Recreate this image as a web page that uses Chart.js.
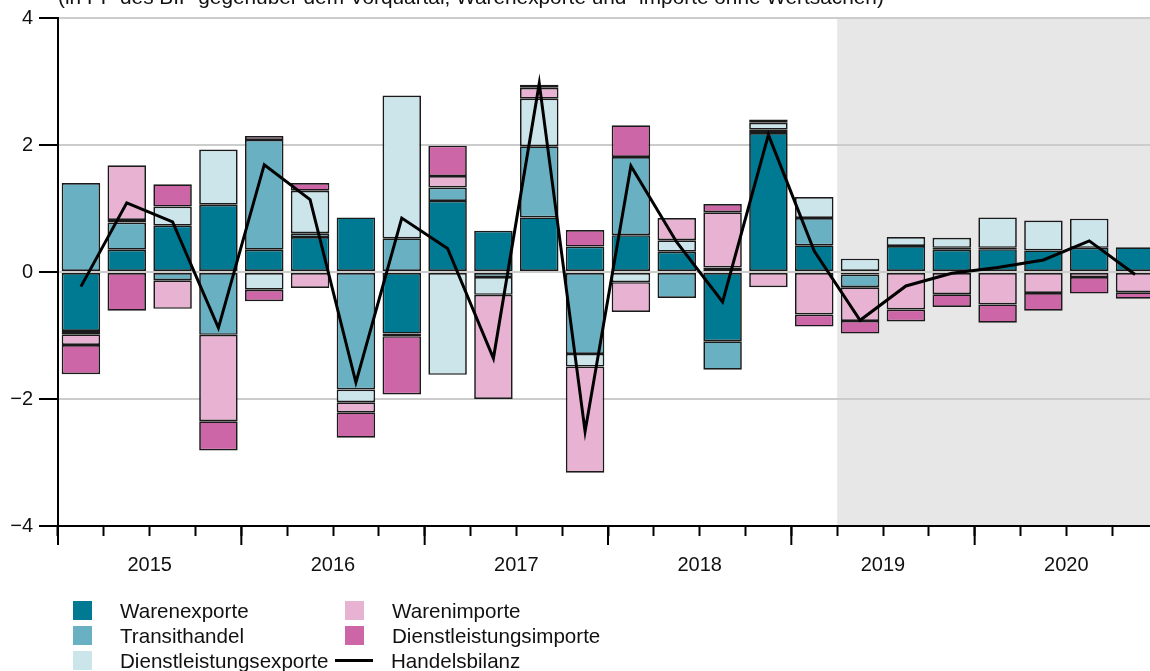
<!DOCTYPE html>
<html>
<head>
<meta charset="utf-8">
<script src="https://cdn.jsdelivr.net/npm/chart.js@4.4.0/dist/chart.umd.min.js"></script>
<style>
  html, body { margin: 0; padding: 0; background: #fff; overflow: hidden; }
  body { width: 1150px; height: 671px; position: relative; font-family: 'Liberation Sans', Arial, Helvetica, sans-serif; color: #111; }
  #wrap { position: absolute; left: 0; top: 0; width: 1158px; height: 600px; }
  #title { position: absolute; left: 58px; top: -13px; font-size: 20.8px; line-height: 20px; white-space: nowrap; }
  .item { position: absolute; height: 19px; display: flex; align-items: center; font-size: 20.6px; white-space: nowrap; }
  .swatch { width: 19px; height: 19px; }
  .dash { width: 38px; height: 3px; background: #000; }
</style>
</head>
<body>
<div id="wrap"><canvas id="tradeChart" width="1158" height="600"></canvas></div>
<div id="title">(in PP des BIP gegenüber dem Vorquartal; Warenexporte und -importe ohne Wertsachen)</div>
<div id="legend"></div>
<script>
// --- Data (percentage points of GDP, change vs previous quarter) ---
const quarters = [
  '2015 Q1', '2015 Q2', '2015 Q3', '2015 Q4',
  '2016 Q1', '2016 Q2', '2016 Q3', '2016 Q4',
  '2017 Q1', '2017 Q2', '2017 Q3', '2017 Q4',
  '2018 Q1', '2018 Q2', '2018 Q3', '2018 Q4',
  '2019 Q1', '2019 Q2', '2019 Q3', '2019 Q4',
  '2020 Q1', '2020 Q2', '2020 Q3', '2020 Q4'
];
const yearLabels = ['2015', '2016', '2017', '2018', '2019', '2020'];
const yTicks = [-4, -2, 0, 2, 4];
const forecastStart = '2019 Q2';

const warenexporte = [
  -0.93, 0.35, 0.73, 1.06, 0.35, 0.55, 0.86, -0.97,
  1.12, 0.65, 0.86, 0.40, 0.58, 0.32, -1.09, 2.19,
  0.42, -0.04, 0.41, 0.35, 0.36, 0.34, 0.38, 0.39
];
const transithandel = [
  1.40, 0.43, -0.13, -0.99, 1.73, 0.06, -1.85, 0.53,
  0.21, -0.08, 1.12, -1.29, 1.23, -0.41, -0.45, 0.05,
  0.43, -0.20, 0.00, 0.03, 0.02, 0.00, 0.00, 0.00
];
const dienstleistungsexporte = [
  -0.05, 0.04, 0.30, 0.87, -0.28, 0.67, -0.20, 2.25,
  -1.62, -0.28, 0.75, -0.20, -0.16, 0.18, 0.07, 0.11,
  0.33, 0.21, 0.14, 0.16, 0.48, 0.47, 0.46, 0.00
];
const warenimporte = [
  -0.17, 0.86, -0.45, -1.36, 0.06, -0.25, -0.16, -0.04,
  0.18, -1.64, 0.17, -1.67, -0.47, 0.35, 0.87, -0.24,
  -0.67, -0.53, -0.59, -0.35, -0.51, -0.33, -0.08, -0.32
];
const dienstleistungsimporte = [
  -0.46, -0.61, 0.35, -0.46, -0.18, 0.12, -0.40, -0.92,
  0.48, 0.00, 0.05, 0.26, 0.50, 0.00, 0.13, 0.05,
  -0.19, -0.20, -0.19, -0.20, -0.29, -0.28, -0.26, -0.10
];
const handelsbilanz = [
  -0.23, 1.09, 0.79, -0.88, 1.69, 1.14, -1.74, 0.85,
  0.37, -1.36, 2.97, -2.51, 1.67, 0.47, -0.47, 2.16,
  0.33, -0.76, -0.22, -0.02, 0.07, 0.19, 0.49, -0.04
];

const barSeries = [
  { label: 'Warenexporte', data: warenexporte, color: '#007a93' },
  { label: 'Transithandel', data: transithandel, color: '#68b0c2' },
  { label: 'Dienstleistungsexporte', data: dienstleistungsexporte, color: '#cce5eb' },
  { label: 'Warenimporte', data: warenimporte, color: '#e8b3d2' },
  { label: 'Dienstleistungsimporte', data: dienstleistungsimporte, color: '#cc66a6' }
];

Chart.defaults.font.family = "'Liberation Sans', Arial, Helvetica, sans-serif";
Chart.defaults.font.size = 20;
Chart.defaults.color = '#111';

// grey background for the forecast period + long year ticks on the x axis
const forecastPlugin = {
  id: 'forecast',
  beforeDraw(chart) {
    const { ctx, chartArea, scales } = chart;
    const x = scales.x;
    const half = (x.getPixelForValue(1) - x.getPixelForValue(0)) / 2;
    const start = x.getPixelForValue(quarters.indexOf(forecastStart)) - half;
    ctx.save();
    ctx.fillStyle = '#e7e7e7';
    ctx.fillRect(start, chartArea.top, chartArea.right - start, chartArea.bottom - chartArea.top);
    ctx.restore();
  },
  afterDraw(chart) {
    const { ctx, chartArea, scales } = chart;
    const x = scales.x;
    const half = (x.getPixelForValue(1) - x.getPixelForValue(0)) / 2;
    ctx.save();
    ctx.strokeStyle = '#000';
    ctx.lineWidth = 2;
    for (let i = 0; i <= quarters.length; i += 4) {
      const px = i < quarters.length ? x.getPixelForValue(i) - half : x.getPixelForValue(i - 1) + half;
      ctx.beginPath();
      ctx.moveTo(px, chartArea.bottom);
      ctx.lineTo(px, chartArea.bottom + 19);
      ctx.stroke();
    }
    ctx.restore();
  }
};

const datasets = barSeries.map(s => ({
  type: 'bar',
  label: s.label,
  data: s.data,
  backgroundColor: s.color,
  borderColor: '#1a1a1a',
  borderWidth: 1.7,
  borderSkipped: false,
  barPercentage: 0.84,
  categoryPercentage: 1,
  order: 1
}));
datasets.push({
  type: 'line',
  label: 'Handelsbilanz',
  data: handelsbilanz,
  borderColor: '#000',
  borderWidth: 3,
  pointRadius: 0,
  tension: 0,
  fill: false,
  stack: 'bilanz',
  order: 0
});

new Chart(document.getElementById('tradeChart'), {
  data: { labels: quarters, datasets: datasets },
  options: {
    responsive: false,
    animation: false,
    layout: { padding: { top: 17, bottom: 14, left: 0, right: 0 } },
    plugins: { legend: { display: false }, tooltip: { enabled: false } },
    scales: {
      x: {
        stacked: true,
        offset: true,
        grid: { display: true, offset: true, drawOnChartArea: false, drawTicks: true, tickLength: 10, tickColor: '#000', tickWidth: 2 },
        border: { color: '#000', width: 2 },
        ticks: {
          autoSkip: false,
          maxRotation: 0,
          padding: 17,
          labelOffset: 22.9,
          callback: (val, i) => (i % 4 === 1 ? yearLabels[Math.floor(i / 4)] : '')
        },
        afterFit: scale => { scale.height = 60; }
      },
      y: {
        stacked: true,
        min: yTicks[0],
        max: yTicks[yTicks.length - 1],
        grid: {
          color: c => (c.tick && c.tick.value === yTicks[0] ? 'rgba(0,0,0,0)' : '#cccccc'),
          lineWidth: 2,
          tickLength: 19,
          tickColor: '#000',
          tickWidth: 2
        },
        border: { color: '#000', width: 2 },
        ticks: {
          stepSize: 2,
          padding: 6,
          callback: v => String(v).replace('-', '\u2212')
        },
        afterBuildTicks: scale => { scale.ticks = yTicks.map(v => ({ value: v })); },
        afterFit: scale => { scale.width = 58; }
      }
    }
  },
  plugins: [forecastPlugin]
});

// --- Legend (two columns, as in the original) ---
const legendItems = [
  { label: barSeries[0].label, color: barSeries[0].color, left: 73, top: 601 },
  { label: barSeries[1].label, color: barSeries[1].color, left: 73, top: 626 },
  { label: barSeries[2].label, color: barSeries[2].color, left: 73, top: 651 },
  { label: barSeries[3].label, color: barSeries[3].color, left: 345, top: 601 },
  { label: barSeries[4].label, color: barSeries[4].color, left: 345, top: 626 },
  { label: 'Handelsbilanz', line: true, left: 335, top: 651 }
];
const legendElem = document.getElementById('legend');
legendItems.forEach(item => {
  const div = document.createElement('div');
  div.className = 'item';
  div.style.left = item.left + 'px';
  div.style.top = item.top + 'px';
  const mark = document.createElement('span');
  if (item.line) {
    mark.className = 'dash';
    mark.style.marginRight = '18px';
  } else {
    mark.className = 'swatch';
    mark.style.background = item.color;
    mark.style.marginRight = '28px';
  }
  const text = document.createElement('span');
  text.textContent = item.label;
  div.appendChild(mark);
  div.appendChild(text);
  legendElem.appendChild(div);
});
</script>
</body>
</html>
